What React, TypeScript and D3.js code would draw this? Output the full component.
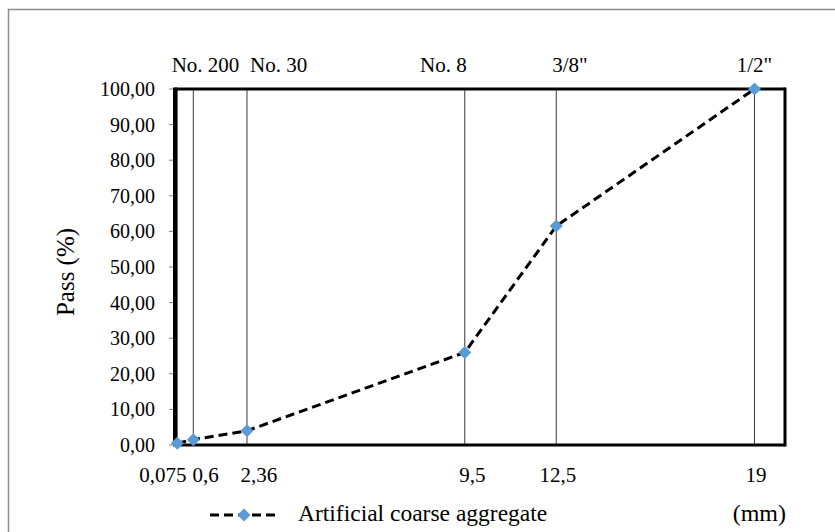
import * as d3 from 'd3';

const W = 835;
const H = 532;
const PLOT = { left: 175, right: 785, top: 89, bottom: 445 };

// sieve sizes (mm) and passing (%)
const sizes = [0.075, 0.6, 2.36, 9.5, 12.5, 19];
const passing = [0.5, 1.5, 4.0, 26.0, 61.5, 100.0];

// bottom labels and where their text sits (in mm)
const sizeLabels = ['0,075', '0,6', '2,36', '9,5', '12,5', '19'];
const sizeLabelAt = [-0.4, 1.0, 2.75, 9.75, 12.55, 19.05];

// top sieve names and where their text sits (in mm)
const sieveNames = ['No. 200', 'No. 30', 'No. 8', '3/8"', '1/2"'];
const sieveNameAt = [1.0, 3.4, 8.8, 12.95, 19.0];

const yTicks = d3.range(0, 101, 10);
const SERIES = 'Artificial coarse aggregate';

const FONT = "'Liberation Serif', 'Times New Roman', serif";
const BLUE = '#5B9BD5';

export default function App() {
  const x = d3.scaleLinear().domain([0, 20]).range([PLOT.left, PLOT.right]);
  const y = d3.scaleLinear().domain([0, 100]).range([PLOT.bottom, PLOT.top]);

  const pts = sizes.map((s, i) => ({ s, p: passing[i] }));
  const line = d3.line<{ s: number; p: number }>().x(d => x(d.s)).y(d => y(d.p));
  // square turned 45deg, like Excel's diamond marker
  const diamond = d3.symbol().type(d3.symbolSquare).size(85)() ?? '';
  const fmt = (v: number) => v.toFixed(2).replace('.', ',');

  const txt = { fontFamily: FONT, fill: '#000' };

  return (
    <svg width={W} height={H} style={{ position: 'absolute', left: 0, top: 0, background: '#fff' }}>
      {/* outer frame (only top/left visible) */}
      <rect x={8.5} y={9.5} width={900} height={600} fill="none" stroke="#8c8c8c" strokeWidth={1.5} />

      {/* vertical guide lines at each sieve */}
      {sizes.map((s, i) => (
        <line key={i} x1={x(s)} x2={x(s)} y1={PLOT.top} y2={PLOT.bottom} stroke="#3a3a3a" strokeWidth={1} />
      ))}

      {/* y ticks */}
      {yTicks.map(t => (
        <g key={t}>
          <line x1={PLOT.left - 6} x2={PLOT.left} y1={y(t)} y2={y(t)} stroke="#808080" strokeWidth={1} />
          <text {...txt} x={155} y={y(t)} dy="0.35em" textAnchor="end" fontSize={20}>{fmt(t)}</text>
        </g>
      ))}

      {/* plot frame */}
      <line x1={PLOT.left} x2={PLOT.right} y1={PLOT.top} y2={PLOT.top} stroke="#000" strokeWidth={3} />
      <line x1={PLOT.left} x2={PLOT.right} y1={PLOT.bottom} y2={PLOT.bottom} stroke="#000" strokeWidth={3} />
      <line x1={PLOT.right} x2={PLOT.right} y1={PLOT.top - 1.5} y2={PLOT.bottom + 1.5} stroke="#000" strokeWidth={3} />
      <line x1={PLOT.left} x2={PLOT.left} y1={PLOT.top - 1.5} y2={PLOT.bottom + 1.5} stroke="#000" strokeWidth={4} />

      {/* series */}
      <path d={line(pts) ?? ''} fill="none" stroke="#000" strokeWidth={3} strokeDasharray="9,5" />
      {pts.map((d, i) => (
        <path key={i} d={diamond} transform={`translate(${x(d.s)},${y(d.p)}) rotate(45)`} fill={BLUE} />
      ))}

      {/* bottom size labels */}
      {sizeLabels.map((l, i) => (
        <text {...txt} key={l} x={x(sizeLabelAt[i])} y={482} textAnchor="middle" fontSize={21}>{l}</text>
      ))}

      {/* top sieve names */}
      {sieveNames.map((l, i) => (
        <text {...txt} key={l} x={x(sieveNameAt[i])} y={72} textAnchor="middle" fontSize={21}>{l}</text>
      ))}

      {/* y axis title */}
      <text {...txt} transform="translate(74,272) rotate(-90)" textAnchor="middle" fontSize={25}>Pass (%)</text>

      {/* legend */}
      <line x1={210} x2={277} y1={515} y2={515} stroke="#000" strokeWidth={3} strokeDasharray="9,5" />
      <path d={diamond} transform="translate(244,515) rotate(45)" fill={BLUE} />
      <text {...txt} x={298} y={521} fontSize={23.5}>{SERIES}</text>
      <text {...txt} x={786} y={521} textAnchor="end" fontSize={24}>(mm)</text>
    </svg>
  );
}
